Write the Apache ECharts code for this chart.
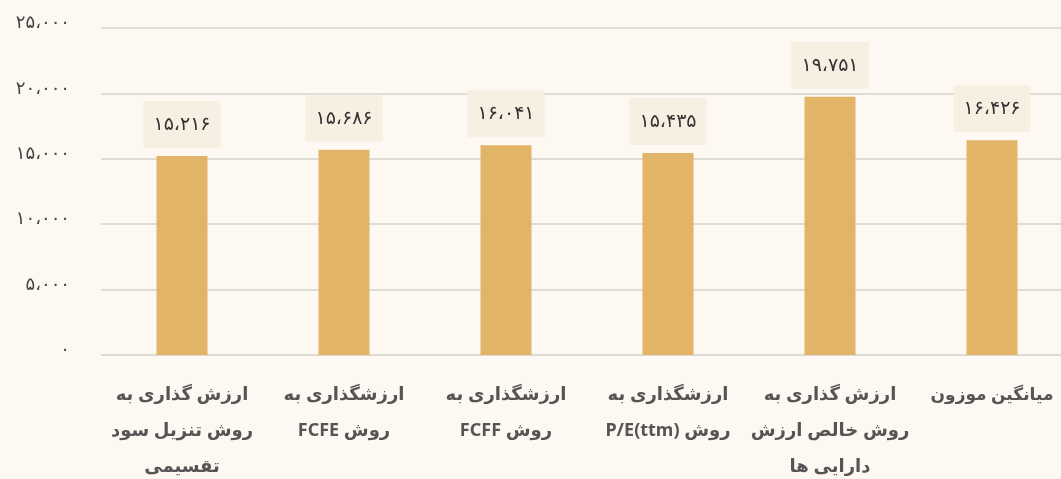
<!DOCTYPE html>
<html>
<head>
<meta charset="utf-8">
<script src="https://cdn.jsdelivr.net/npm/echarts@6/dist/echarts.min.js"></script>
<style>
  html, body { margin: 0; padding: 0; background: #fdf8f1; }
  #chart { width: 1061px; height: 479px; }
</style>
</head>
<body>
<div id="chart"></div>
<script>
// دسته‌ها و مقادیر
const categories = [
    'ارزش گذاری به\nروش تنزیل سود\nتقسیمی',
    'ارزشگذاری به\nروش FCFE',
    'ارزشگذاری به\nروش FCFF',
    'ارزشگذاری به\nروش P/E(ttm)',
    'ارزش گذاری به\nروش خالص ارزش\nدارایی ها',
    'میانگین موزون'
];
const values = [15216, 15686, 16041, 15435, 19751, 16426];
const yTicks = [0, 5000, 10000, 15000, 20000, 25000];

// اعداد فارسی با جداکننده
function faNum(v) {
    const digits = '۰۱۲۳۴۵۶۷۸۹';
    const s = String(Math.round(v)).replace(/\B(?=(\d{3})+(?!\d))/g, '،');
    return s.replace(/\d/g, d => digits[d]);
}

// canvas متن را چپ به راست می‌چیند؛ خطوط مخلوط (فارسی + لاتین) را برعکس کن
function rtl(text) {
    return text.split('\n').map(l => /[A-Za-z]/.test(l) ? l.split(' ').reverse().join(' ') : l).join('\n');
}

const myChart = echarts.init(document.getElementById('chart'));

const option = {
    backgroundColor: '#fdf8f1',
    textStyle: { fontFamily: "'Noto Sans', 'DejaVu Sans', sans-serif" },
    grid: {
        top: 28,
        left: 101,
        width: 972,
        height: 327,
        containLabel: false,
        outerBoundsMode: 'none'
    },
    xAxis: {
        type: 'category',
        data: categories,
        axisLine: { show: false },
        axisTick: { show: false },
        axisLabel: {
            interval: 0,
            margin: 22,
            color: '#555',
            fontWeight: 'bold',
            fontSize: 18,
            lineHeight: 36,
            align: 'center',
            // آخرین برچسب کنار لبه است، کمی کوچکتر
            formatter: (v, i) => i === categories.length - 1 ? '{s|' + rtl(v) + '}' : rtl(v),
            rich: {
                s: { fontSize: 17, fontWeight: 'bold', color: '#555', lineHeight: 36 }
            }
        }
    },
    yAxis: {
        type: 'value',
        min: yTicks[0],
        max: yTicks[yTicks.length - 1],
        interval: 5000,
        axisLine: { show: false },
        axisTick: { show: false },
        splitLine: {
            lineStyle: { color: '#dfdbd5', width: 2 }
        },
        axisLabel: {
            margin: 31,
            color: '#444',
            fontSize: 18,
            lineHeight: 10,
            verticalAlign: 'bottom',
            formatter: v => faNum(v)
        }
    },
    series: [
        {
            type: 'bar',
            data: values,
            barWidth: 51,
            itemStyle: { color: '#e2b468' },
            label: {
                show: true,
                position: 'top',
                distance: 8,
                color: '#333',
                fontSize: 19,
                backgroundColor: '#f7efe2',
                padding: [14, 10],
                formatter: p => faNum(p.value)
            }
        }
    ]
};

myChart.setOption(option);
</script>
</body>
</html>
